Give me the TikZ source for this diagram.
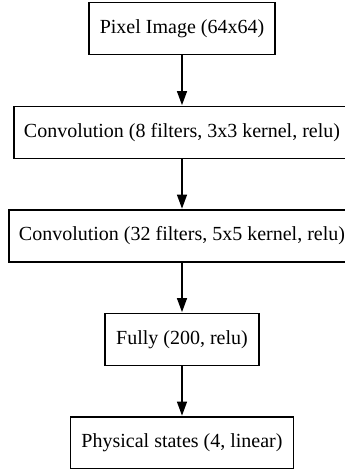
\documentclass[tikz,border=0pt]{standalone}
\usepackage{fontspec}
\setmainfont{Liberation Serif}
\usetikzlibrary{arrows.meta}

\tikzset{
  layer/.style={draw=black, line width=1.4pt, fill=white, inner sep=0pt,
    minimum height=52pt, font=\fontsize{20}{24}\selectfont, anchor=center},
  flow/.style={draw=black, line width=1.4pt,
    -{Triangle[length=14pt, width=10pt]}, shorten >=0.7pt},
}

\begin{document}
\begin{tikzpicture}[x=1pt, y=-1pt]
  \useasboundingbox (0,0) rectangle (345,469);

  \node[layer, minimum width=186pt] (img)   at (182,28.5)  {Pixel Image (64x64)};
  \node[layer, minimum width=336pt] (conv1) at (182,132.5) {Convolution (8 filters, 3x3 kernel, relu)};
  \node[layer, minimum width=346pt] (conv2) at (182,236)   {Convolution (32 filters, 5x5 kernel, relu)};
  \node[layer, minimum width=154pt] (fc)    at (182,339.5) {Fully (200, relu)};
  \node[layer, minimum width=223pt] (out)   at (182,443)   {Physical states (4, linear)};

  \draw[flow] (img)   -- (conv1);
  \draw[flow] (conv1) -- (conv2);
  \draw[flow] (conv2) -- (fc);
  \draw[flow] (fc)    -- (out);
\end{tikzpicture}
\end{document}
